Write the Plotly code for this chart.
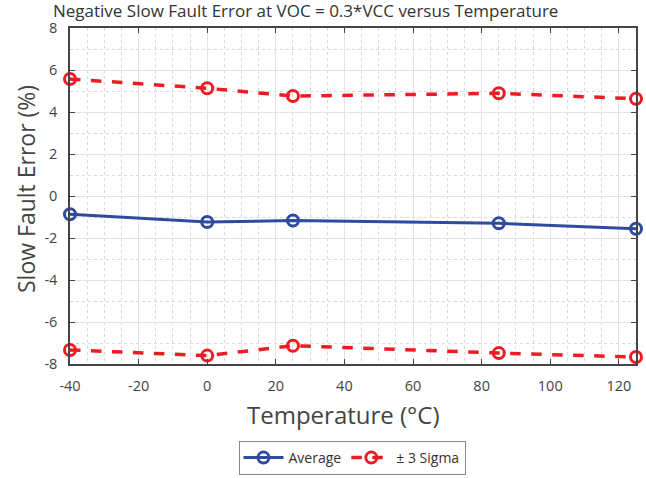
import plotly.graph_objects as go

temps = [-40, 0, 25, 85, 125]
average = [-0.87, -1.24, -1.17, -1.30, -1.56]
sigma_upper = [5.57, 5.13, 4.76, 4.89, 4.63]
sigma_lower = [-7.33, -7.60, -7.13, -7.48, -7.67]

x_ticks = [-40, -20, 0, 20, 40, 60, 80, 100, 120]
y_ticks = [-8, -6, -4, -2, 0, 2, 4, 6, 8]
x_labels = [str(v) for v in x_ticks]
y_labels = [str(v) for v in y_ticks]

BLUE = "#2F4B9F"
RED = "#ED1C24"
FONT = "Open Sans, Noto Sans, sans-serif"

fig = go.Figure()
fig.add_trace(go.Scatter(
    x=temps, y=average, name="Average", mode="lines+markers", cliponaxis=False,
    line=dict(color=BLUE, width=3),
    marker=dict(symbol="circle-open", size=11, color=BLUE, line=dict(width=3)),
))
fig.add_trace(go.Scatter(
    x=temps, y=sigma_upper, name="± 3 Sigma", mode="lines+markers", cliponaxis=False,
    legendgroup="sig",
    line=dict(color=RED, width=3.5, dash="dash"),
    marker=dict(symbol="circle-open", size=11, color=RED, line=dict(width=3)),
))
fig.add_trace(go.Scatter(
    x=temps, y=sigma_lower, name="± 3 Sigma", mode="lines+markers", cliponaxis=False,
    legendgroup="sig", showlegend=False,
    line=dict(color=RED, width=3.5, dash="dash"),
    marker=dict(symbol="circle-open", size=11, color=RED, line=dict(width=3)),
))

axis_common = dict(
    showline=True, linecolor="#444444", linewidth=1.5, mirror="ticks",
    ticks="inside", ticklen=5, tickcolor="#444444",
    gridcolor="#E3E3E3", gridwidth=1, zeroline=False,
    tickfont=dict(size=14.5, color="#444444", family=FONT),
)

fig.update_xaxes(
    range=[-40, 125], tickvals=x_ticks, ticktext=x_labels,
    ticklabelstandoff=8,
    minor=dict(dtick=5, showgrid=True, gridcolor="#D9D9D9", griddash="dot", gridwidth=1, ticks=""),
    **axis_common,
)
fig.update_yaxes(
    range=[-8, 8], tickvals=y_ticks, ticktext=y_labels,
    ticklabelstandoff=8,
    minor=dict(dtick=1, showgrid=True, gridcolor="#D9D9D9", griddash="dot", gridwidth=1, ticks=""),
    **axis_common,
)

fig.add_annotation(text="Temperature (°C)", xref="paper", yref="paper",
                   x=(343.5 - 70) / 566, y=(364 - 415) / 336, xanchor="center", yanchor="middle",
                   showarrow=False, font=dict(size=24, color="#444444", family=FONT))
fig.add_annotation(text="Slow Fault Error (%)", xref="paper", yref="paper", textangle=-90,
                   x=(26 - 70) / 566, y=(364 - 189) / 336, xanchor="center", yanchor="middle",
                   showarrow=False, font=dict(size=23, color="#444444", family=FONT))

fig.update_layout(
    width=646, height=478,
    margin=dict(l=70, r=10, t=28, b=114, autoexpand=False),
    paper_bgcolor="white", plot_bgcolor="white",
    title=dict(text="Negative Slow Fault Error at VOC = 0.3*VCC versus Temperature",
               font=dict(size=17, color="#333333", family=FONT),
               x=53 / 646, xanchor="left", xref="container",
               y=1 - 11.5 / 478, yanchor="middle", yref="container"),
    showlegend=True,
    legend=dict(orientation="h", x=352 / 646, xanchor="center", xref="container",
                y=3 / 478, yanchor="bottom", yref="container",
                bordercolor="#888888", borderwidth=1, bgcolor="white",
                itemwidth=40,
                font=dict(size=14, color="#333333", family=FONT)),
    font=dict(family=FONT),
)

fig.write_html("out.html", config={"displayModeBar": False},
               post_script="document.body.style.margin='0';document.body.style.padding='0';")
